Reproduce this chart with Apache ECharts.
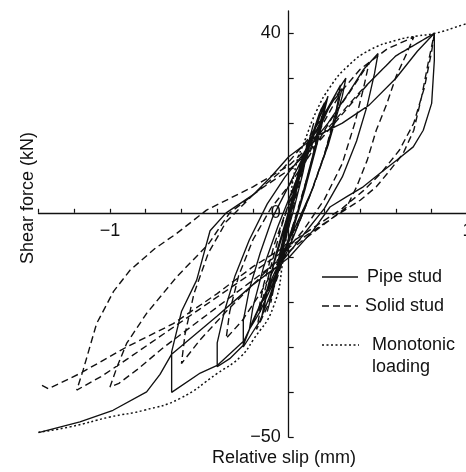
<!DOCTYPE html>
<html>
<head>
<meta charset="utf-8">
<script src="https://cdn.jsdelivr.net/npm/echarts@6.0.0/dist/echarts.min.js"></script>
<style>
  html, body { margin: 0; padding: 0; background: #fff; }
  #main { width: 466px; height: 472px; }
</style>
</head>
<body>
<div id="main"></div>
<script>
// slip (mm), force (kN) pairs
const pipeStud = [
  [0,0],[0.03,5],[0.06,10],[0.08,13],[0.06,9],[0.02,2],[-0.02,-5],[-0.05,-10],[-0.07,-13],[-0.05,-9],[-0.01,-2],
  [0.04,6],[0.08,12],[0.11,16],[0.09,13],[0.05,6],[0,-2],[-0.04,-9],[-0.07,-14],[-0.09,-17],
  [-0.07,-14],[-0.03,-7],[0.01,0],[0.06,8],[0.1,14],[0.14,20],[0.12,17],[0.08,9],[0.03,1],[-0.02,-6],
  [-0.07,-14],[-0.1,-19],[-0.12,-22],[-0.1,-19],[-0.06,-11],[-0.01,-3],[0.04,5],[0.09,12],[0.14,18],[0.18,23],[0.21,25],
  [0.19,22],[0.15,15],[0.1,7],[0.04,-1],[-0.02,-8],[-0.08,-16],[-0.13,-21],[-0.15,-23],[-0.13,-19],[-0.08,-11],
  [-0.02,-3],[0.04,5],[0.1,13],[0.16,20],[0.2,24],[0.22,26],
  [0.19,21],[0.13,12],[0.07,3],[0.01,-5],[-0.06,-13],[-0.11,-19],[-0.14,-22],[-0.12,-17],[-0.07,-9],
  [-0.01,-1],[0.06,8],[0.12,16],[0.17,22],[0.2,24.5],
  [0.2,22],[0.15,14],[0.09,5],[0.03,-3],[-0.04,-11],[-0.1,-18],[-0.16,-24],[-0.2,-26.5],[-0.254,-29.9],[-0.254,-24],
  [-0.22,-17],[-0.16,-9],[-0.09,-1],[0,6],[0.1,14],[0.2,22],[0.27,27],[0.32,30],
  [0.3,26],[0.22,15],[0.12,4],[0.02,-6],[-0.08,-15],[-0.16,-22],[-0.22,-26],[-0.2,-21],[-0.14,-12],
  [-0.06,-3],[0.04,7],[0.14,16],[0.22,23],[0.27,27],[0.29,28.5],
  [0.26,21],[0.2,13],[0.13,5],[0.05,-2],[-0.03,-9],[-0.12,-17],[-0.2,-24],[-0.254,-29.5],[-0.33,-32.5],[-0.4,-34.3],[-0.4,-29],
  [-0.36,-22],[-0.3,-14],[-0.22,-6],[-0.12,2],[-0.02,8],[0.1,14],[0.22,20],[0.34,27],[0.42,32],[0.5,35.5],
  [0.48,31],[0.44,24],[0.38,16],[0.3,8],[0.2,1],[0.08,-5],[-0.04,-11],[-0.15,-20],[-0.25,-28.5],[-0.4,-34],[-0.495,-35.7],[-0.655,-40],[-0.655,-31],
  [-0.6,-22],[-0.515,-15],[-0.44,-4],[-0.35,0],[-0.2,4],[-0.1,8],[0,12.5],[0.15,17],[0.3,20],[0.45,24],[0.6,30],[0.72,36],[0.815,40],
  [0.815,34],[0.8,24.4],[0.753,18.4],[0.697,14.7],[0.604,11.7],[0.511,8.8],[0.417,5.8],[0.325,3.6],[0.231,1.3],[0.137,-3.9],
  [0,-10],[-0.2,-16],[-0.4,-23],[-0.55,-28],[-0.655,-31.5],[-0.72,-36],[-0.795,-39.9],[-0.983,-44],[-1.168,-46.6],[-1.4,-49]
];

const solidStud = [
  [0,0],[0.03,5],[0.07,11],[0.09,14],[0.07,10],[0.03,3],[-0.01,-4],[-0.04,-9],[-0.06,-12],[-0.04,-8],[0,-1],
  [0.05,8],[0.1,15],[0.13,18],[0.1,13],[0.05,5],[0,-3],[-0.04,-10],[-0.08,-16],[-0.1,-20],
  [-0.08,-16],[-0.04,-8],[0.02,2],[0.08,11],[0.14,18],[0.2,24],
  [0.17,19],[0.12,10],[0.06,2],[0,-6],[-0.06,-14],[-0.12,-21],[-0.18,-26],
  [-0.15,-20],[-0.1,-12],[-0.04,-3],[0.04,7],[0.12,15],[0.2,22],[0.3,28],
  [0.27,23],[0.21,14],[0.14,6],[0.06,-2],[-0.03,-10],[-0.11,-17],[-0.17,-22],[-0.14,-16],[-0.08,-7],
  [0,2],[0.09,11],[0.18,19],[0.25,24],[0.29,26.5],
  [0.26,22],[0.2,13],[0.12,4],[0.03,-4],[-0.06,-11],[-0.16,-18],[-0.26,-24],[-0.35,-28],
  [-0.33,-22],[-0.28,-14],[-0.2,-6],[-0.1,1],[0,6],[0.12,13],[0.24,21],[0.36,28],[0.45,33.5],
  [0.42,28],[0.37,20],[0.3,11],[0.2,3],[0.08,-4],[-0.05,-10],[-0.2,-16],[-0.35,-22],[-0.5,-28.5],[-0.6,-33.6],
  [-0.58,-27],[-0.53,-18],[-0.45,-9],[-0.35,-2],[-0.2,4],[-0.05,9],[0.1,16],[0.25,25],[0.4,32],[0.55,36.5],[0.7,39.2],
  [0.66,35.5],[0.6,30.3],[0.55,24.4],[0.49,18.4],[0.44,11.8],[0.38,5.8],[0.325,1.3],[0.2,-2.5],[0.05,-7],[-0.1,-12],
  [-0.3,-18],[-0.5,-24],[-0.7,-30],[-0.85,-35],[-0.95,-38],[-1.0,-38.8],
  [-0.96,-34.3],[-0.907,-29.1],[-0.795,-22.4],[-0.627,-14.3],[-0.45,-7],[-0.33,0],[-0.15,5.5],[0,9.5],[0.15,15],[0.3,22],[0.45,29],[0.6,35],[0.815,40],
  [0.78,33.3],[0.744,25.9],[0.7,18.4],[0.64,13.2],[0.567,9.5],[0.49,5.8],[0.4,2.8],[0.25,-1],[0.1,-5],[-0.1,-10.5],
  [-0.3,-16],[-0.5,-21.5],[-0.7,-27],[-0.9,-32.5],[-1.05,-36.5],[-1.186,-39.5],
  [-1.15,-35],[-1.075,-24.7],[-0.98,-17.5],[-0.888,-12.8],[-0.75,-8],[-0.627,-4.6],[-0.46,0.6],[-0.2,5.8],[0,10.5],[0.2,18],[0.4,27],[0.6,35],[0.815,40],
  [0.8,36],[0.76,28],[0.7,20],[0.62,14],[0.52,9],[0.42,5],[0.3,1],[0.15,-3],[0,-7],[-0.2,-12],
  [-0.4,-18],[-0.646,-24.7],[-0.907,-29.9],[-1.168,-35.8],[-1.345,-39.2],[-1.4,-38]
];

const monotonic = [
  [-1.4,-48.9],[-1.224,-47.7],[-1.0,-45.5],[-0.81,-44],[-0.61,-41.4],[-0.4,-35.8],[-0.27,-32.1],[-0.2,-28.4],
  [-0.086,-21],[-0.03,-10],[0,0],[0.041,10.6],[0.091,16.2],[0.158,22.9],[0.231,28],[0.326,32.5],
  [0.455,36.3],[0.606,38.5],[0.718,39.4],[0.819,40],[0.975,41.9],[1.0,42.2]
];

const xTicks = [-1.4,-1.2,-1.0,-0.8,-0.6,-0.4,-0.2,0,0.2,0.4,0.6,0.8,1.0];
const xLabels = [-1, 1];
const yTicks = [-50,-40,-30,-20,-10,0,10,20,30,40];
const yLabels = [40, 0, -50];

const FONT = '"Liberation Sans", Arial, sans-serif';
const INK = '#111';

function fmt(list) {
  return function (v) {
    for (const l of list) {
      if (Math.abs(v - l) < 1e-6) return String(l).replace('-', '\u2212');
    }
    return '';
  };
}

const chart = echarts.init(document.getElementById('main'));

// axes cross at zero; pushed there with offset so labels follow the lines
chart.setOption({
  animation: false,
  backgroundColor: '#fff',
  grid: { left: 38.5, top: 10.9, width: 428.9, height: 426.3, containLabel: false, outerBoundsMode: 'none' },
  xAxis: {
    type: 'value', min: -1.4, max: 1.0, interval: 0.2,
    position: 'bottom', offset: -224.4,
    splitLine: { show: false },
    axisLine: { onZero: false, lineStyle: { color: INK, width: 1.3 } },
    axisTick: { inside: true, length: 4, customValues: xTicks, lineStyle: { color: INK, width: 1.2 } },
    axisLabel: { customValues: xLabels, formatter: fmt(xLabels), margin: 9, color: INK, fontSize: 18, fontFamily: FONT }
  },
  yAxis: {
    type: 'value', min: -50, max: 45, interval: 10,
    position: 'left', offset: -250.2,
    splitLine: { show: false },
    axisLine: { onZero: false, lineStyle: { color: INK, width: 1.3 } },
    axisTick: { inside: true, length: 5, customValues: yTicks, lineStyle: { color: INK, width: 1.2 } },
    axisLabel: { customValues: yLabels, formatter: fmt(yLabels), margin: 8, color: INK, fontSize: 18, fontFamily: FONT }
  },
  series: [
    {
      name: 'Pipe stud', type: 'line', data: pipeStud, showSymbol: false, symbol: 'none',
      lineStyle: { color: INK, width: 1.35 }
    },
    {
      name: 'Solid stud', type: 'line', data: solidStud, showSymbol: false, symbol: 'none',
      lineStyle: { color: INK, width: 1.4, type: [7, 4] }
    },
    {
      name: 'Monotonic loading', type: 'line', data: monotonic, showSymbol: false, symbol: 'none', smooth: true,
      lineStyle: { color: INK, width: 1.5, type: [2, 2.5] }
    }
  ],
  graphic: [
    { type: 'text', x: 28, y: 198, rotation: Math.PI / 2,
      style: { text: 'Shear force (kN)', font: '18px ' + FONT, fill: INK, align: 'center', verticalAlign: 'middle' } },
    { type: 'text', x: 284, y: 458,
      style: { text: 'Relative slip (mm)', font: '18px ' + FONT, fill: INK, align: 'center', verticalAlign: 'middle' } },
    // legend
    { type: 'line', shape: { x1: 322, y1: 277, x2: 358, y2: 277 }, style: { stroke: INK, lineWidth: 1.3 } },
    { type: 'line', shape: { x1: 322, y1: 306, x2: 358, y2: 306 }, style: { stroke: INK, lineWidth: 1.6, lineDash: [7, 4] } },
    { type: 'line', shape: { x1: 322, y1: 345, x2: 359, y2: 345 }, style: { stroke: INK, lineWidth: 1.5, lineDash: [2, 2.5] } },
    { type: 'text', x: 367, y: 277, style: { text: 'Pipe stud', font: '18px ' + FONT, fill: INK, verticalAlign: 'middle' } },
    { type: 'text', x: 365, y: 306, style: { text: 'Solid stud', font: '18px ' + FONT, fill: INK, verticalAlign: 'middle' } },
    { type: 'text', x: 372, y: 345, style: { text: 'Monotonic', font: '18px ' + FONT, fill: INK, verticalAlign: 'middle' } },
    { type: 'text', x: 372, y: 367, style: { text: 'loading', font: '18px ' + FONT, fill: INK, verticalAlign: 'middle' } }
  ]
});
</script>
</body>
</html>
